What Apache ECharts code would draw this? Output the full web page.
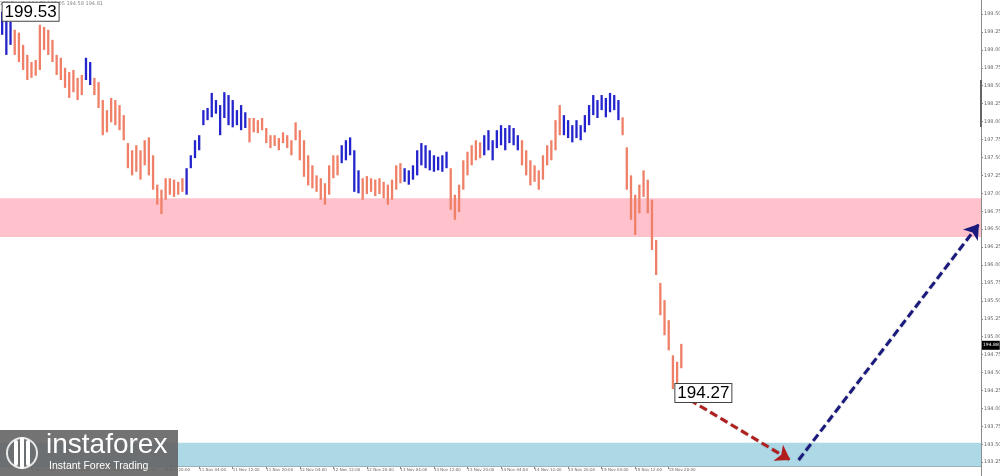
<!DOCTYPE html>
<html><head><meta charset="utf-8">
<script src="https://cdn.jsdelivr.net/npm/echarts@6/dist/echarts.min.js"></script>
<style>html,body{margin:0;padding:0;background:#fff}#c{width:1000px;height:476px}</style>
</head><body><div id="c"></div>
<script>
// ---- data (GBPJPY H1) ----
const highs = [199.53,199.49,199.39,199.28,199.24,199.07,198.93,198.83,198.86,199.35,
199.32,199.28,199.14,198.93,198.89,198.75,198.69,198.72,198.61,198.65,
198.89,198.83,198.61,198.55,198.30,198.16,198.33,198.30,198.23,198.09,
197.70,197.60,197.67,197.60,197.74,197.78,197.53,197.12,197.05,197.21,
197.21,197.19,197.16,197.21,197.35,197.53,197.74,197.81,198.16,198.19,
198.40,198.30,198.23,198.41,198.37,198.30,198.16,198.23,198.13,198.05,
198.05,198.02,198.05,197.91,197.81,197.81,197.77,197.85,197.81,197.74,
197.99,197.88,197.74,197.53,197.39,197.25,197.21,197.14,197.39,197.53,
197.53,197.67,197.74,197.78,197.60,197.32,197.21,197.24,197.21,197.19,
197.21,197.16,197.12,197.19,197.39,197.42,197.35,197.32,197.39,197.60,
197.70,197.67,197.60,197.53,197.51,197.53,197.58,197.35,196.98,197.12,
197.46,197.58,197.67,197.74,197.71,197.81,197.88,197.74,197.88,197.95,
197.91,197.95,197.91,197.81,197.74,197.60,197.46,197.39,197.32,197.53,
197.67,197.74,198.02,198.23,198.09,198.02,197.95,198.02,197.95,198.09,
198.23,198.37,198.30,198.37,198.33,198.40,198.37,198.30,198.06,197.64,
197.25,196.98,197.12,197.32,197.19,196.91,196.35,195.75,195.51,195.23,
194.74,194.65,194.90];
const lows = [199.21,198.93,199.07,198.93,198.83,198.72,198.58,198.61,198.64,198.72,
199.00,198.93,198.83,198.65,198.58,198.47,198.33,198.41,198.30,198.37,
198.58,198.51,198.37,198.19,197.81,197.85,197.99,197.95,197.88,197.74,
197.35,197.25,197.30,197.19,197.39,197.25,197.05,196.84,196.71,196.91,
196.98,196.95,196.98,197.02,196.98,197.35,197.49,197.60,197.95,198.02,
198.06,198.11,197.81,198.05,197.95,197.92,197.95,197.88,197.91,197.71,
197.85,197.84,197.88,197.70,197.63,197.66,197.60,197.70,197.63,197.53,
197.74,197.46,197.23,197.11,197.07,197.02,196.91,196.84,196.98,197.21,
197.25,197.42,197.46,197.53,197.02,197.00,196.91,196.99,197.02,196.96,
196.99,196.93,196.84,196.91,197.05,197.14,197.16,197.12,197.19,197.25,
197.39,197.35,197.32,197.30,197.32,197.30,197.35,196.77,196.63,196.74,
197.05,197.25,197.39,197.46,197.49,197.53,197.60,197.46,197.63,197.67,
197.60,197.70,197.67,197.60,197.39,197.25,197.11,197.16,197.05,197.19,
197.39,197.46,197.60,197.81,197.81,197.77,197.71,197.77,197.74,197.85,
197.95,198.09,198.05,198.16,198.06,198.13,198.16,198.02,197.81,197.05,
196.63,196.42,196.72,196.95,196.72,196.21,195.86,195.30,195.02,194.81,
194.27,194.30,194.56];
// bar index ranges of the upward (blue) wave segments
const blueWaves = [[0,2],[20,21],[44,58],[81,85],[96,106],[115,123],[134,147]];
// time tick labels: bar index -> label
const timeTickIdx = [7,15,23,31,39,47,55,63,71,79,87,95,103,111,119,127,135,143,151,159];
const timeTickText = ['7 Nov 12:00','7 Nov 20:00','8 Nov 04:00','8 Nov 12:00','8 Nov 20:00',
 '11 Nov 04:00','11 Nov 12:00','11 Nov 20:00','12 Nov 04:00','12 Nov 12:00','12 Nov 20:00',
 '13 Nov 04:00','13 Nov 12:00','13 Nov 20:00','14 Nov 04:00','14 Nov 12:00','14 Nov 20:00',
 '15 Nov 04:00','15 Nov 12:00','15 Nov 20:00'];
const slotCount = 234; // bars + future space
const pinkZone = [196.39, 196.93];
const blueZone = [193.19, 193.52];
const highMark = [0, 199.53];
const lowMark = [160, 194.27];
const lastPrice = 194.88;
const redArrow = [[164, 194.12], [188, 193.28]];
const blueArrow = [[190, 193.28], [233, 196.57]];
const headerText = 'GBPJPY,H1  194.79 195.05 194.58 194.81';

// ---- chart ----
const SALMON = '#EF7F66', BLUE = '#2424CC';
const categories = Array.from({length: slotCount}, (_, i) => String(i));
const tickMap = {}; timeTickIdx.forEach((k, j) => tickMap[k] = timeTickText[j]);
const isBlue = i => blueWaves.some(r => i >= r[0] && i <= r[1]);
const barData = highs.map((h, i) => [i, h, lows[i]]);

const chart = echarts.init(document.getElementById('c'), null, {renderer: 'canvas'});
const boxLabel = {
  show: true, position: 'right', distance: 0, color: '#000', fontSize: 17,
  fontFamily: 'Liberation Sans', backgroundColor: '#fff', borderColor: '#444',
  borderWidth: 1, padding: [1, 2, 0, 2]
};
chart.setOption({
  animation: false,
  backgroundColor: '#fff',
  grid: {left: 0, right: 19, top: -3.9, height: 484, containLabel: false, outerBoundsMode: 'none'},
  xAxis: {
    type: 'category', data: categories, boundaryGap: true, offset: -14,
    axisLine: {show: true, lineStyle: {color: '#8a8a8a', width: 1}},
    axisTick: {show: true, alignWithLabel: true, length: 3, interval: (i) => tickMap[i] !== undefined, lineStyle: {color: '#888'}},
    axisLabel: {interval: (i) => tickMap[i] !== undefined, formatter: (v, i) => tickMap[i] || '',
      align: 'left', fontSize: 4, color: '#666', margin: 2, fontFamily: 'DejaVu Sans', hideOverlap: false},
    splitLine: {show: false}
  },
  yAxis: {
    type: 'value', position: 'right', min: 193, max: 199.75, interval: 0.25,
    axisLine: {show: true, lineStyle: {color: '#8a8a8a', width: 1}},
    axisTick: {show: true, length: 2, lineStyle: {color: '#888'}},
    axisLabel: {formatter: v => v.toFixed(2), fontSize: 5, color: '#666', margin: 3, fontFamily: 'DejaVu Sans'},
    splitLine: {show: false}
  },
  series: [
    {
      type: 'line', data: [], z: 1, silent: true,
      markArea: {silent: true, data: [
        [{yAxis: pinkZone[1], itemStyle: {color: '#FFC2CC'}}, {yAxis: pinkZone[0]}],
        [{yAxis: blueZone[1], itemStyle: {color: '#ADD8E6'}}, {yAxis: blueZone[0]}]
      ]}
    },
    {
      type: 'custom', z: 5, data: barData, encode: {x: 0, y: [1, 2]},
      renderItem: (params, api) => {
        const i = api.value(0);
        const top = api.coord([i, api.value(1)]);
        const bot = api.coord([i, api.value(2)]);
        return {type: 'rect', shape: {x: top[0] - 1.1, y: top[1], width: 2.3, height: Math.max(1, bot[1] - top[1])},
          style: {fill: isBlue(i) ? BLUE : SALMON}};
      },
      markPoint: {
        symbol: 'circle', symbolSize: 1, itemStyle: {color: 'rgba(0,0,0,0)'}, z: 20,
        data: [
          {coord: highMark, value: highMark[1], label: Object.assign({}, boxLabel, {formatter: highMark[1].toFixed(2)})},
          {coord: lowMark, value: lowMark[1], label: Object.assign({}, boxLabel, {formatter: lowMark[1].toFixed(2), distance: 2, offset: [0, 4]})}
        ]
      },
      markLine: {
        silent: true, symbol: 'none', z: 30,
        lineStyle: {color: 'rgba(0,0,0,0)', width: 0},
        data: [{yAxis: lastPrice, label: {show: true, position: 'end', formatter: lastPrice.toFixed(2), distance: 1,
          color: '#fff', backgroundColor: '#000', fontSize: 4.5, padding: [2, 1], fontFamily: 'DejaVu Sans'}}]
      }
    },
    {
      type: 'lines', coordinateSystem: 'cartesian2d', z: 10, polyline: false,
      symbol: ['none', 'arrow'], symbolSize: 14,
      lineStyle: {width: 3, type: [8, 4], opacity: 1, shadowColor: 'rgba(0,0,0,0.25)', shadowBlur: 2},
      data: [
        {coords: redArrow, lineStyle: {color: '#B01E1E'}},
        {coords: blueArrow, lineStyle: {color: '#1A1A7E'}}
      ]
    }
  ],
  graphic: [
    {type: 'text', x: 103, y: 1, z: 0, style: {text: headerText, textAlign: 'right', textVerticalAlign: 'top', fill: '#888', font: '5px "DejaVu Sans"'}},
    {type: 'rect', x: 980, y: 80, z: 3, shape: {width: 2, height: 47}, style: {fill: '#666'}},
    {type: 'rect', x: 0, y: 430, z: 100, shape: {width: 178, height: 46}, style: {fill: 'rgba(100,100,100,0.9)'}},
    {type: 'circle', x: 22, y: 453, z: 101, shape: {r: 15}, style: {fill: 'none', stroke: '#fff', lineWidth: 2, opacity: 0.85}},
    {type: 'rect', x: 14, y: 440, z: 101, shape: {width: 4, height: 26, r: 2}, style: {fill: '#fff'}},
    {type: 'rect', x: 20, y: 437, z: 101, shape: {width: 4, height: 32, r: 2}, style: {fill: '#fff'}},
    {type: 'rect', x: 26, y: 440, z: 101, shape: {width: 4, height: 26, r: 2}, style: {fill: '#fff'}},
    {type: 'text', x: 46, y: 431, z: 101, style: {text: 'instaforex', fill: '#fff', font: '28px "Liberation Sans"'}},
    {type: 'text', x: 49, y: 461, z: 101, style: {text: 'Instant Forex Trading', fill: '#fff', font: '10.5px "Liberation Sans"'}}
  ]
});
</script></body></html>
